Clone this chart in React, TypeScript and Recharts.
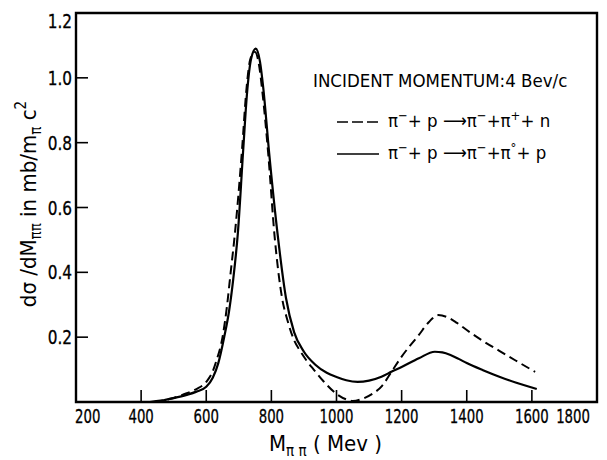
import { LineChart, Line, XAxis, YAxis, ReferenceArea, Legend, Customized } from "recharts"

// solid curve: pi- + p -> pi- + pi0 + p
const massSolid = [427, 460, 500, 540, 570, 600, 620, 637, 655, 670, 683, 697, 713, 725, 738, 752, 765, 775, 793, 820, 845, 870, 900, 935, 970, 1000, 1030, 1065, 1100, 1138, 1170, 1200, 1253, 1302, 1325, 1350, 1375, 1400, 1450, 1500, 1550, 1615]
const sigmaSolid = [0, 0.004, 0.012, 0.022, 0.032, 0.047, 0.075, 0.12, 0.2, 0.28, 0.38, 0.52, 0.77, 0.95, 1.06, 1.09, 1.05, 0.97, 0.77, 0.51, 0.32, 0.215, 0.155, 0.115, 0.09, 0.077, 0.067, 0.062, 0.066, 0.078, 0.094, 0.108, 0.135, 0.155, 0.153, 0.145, 0.133, 0.12, 0.098, 0.078, 0.06, 0.04]

// dashed curve: pi- + p -> pi- + pi+ + n
const massDashed = [440, 490, 540, 570, 600, 620, 632, 650, 663, 675, 688, 710, 723, 736, 750, 762, 772, 790, 810, 833, 850, 870, 890, 910, 930, 960, 1000, 1030, 1050, 1080, 1110, 1140, 1170, 1200, 1253, 1284, 1312, 1340, 1370, 1400, 1450, 1500, 1550, 1610]
const sigmaDashed = [0, 0.01, 0.027, 0.04, 0.062, 0.095, 0.13, 0.2, 0.29, 0.4, 0.52, 0.78, 0.96, 1.06, 1.08, 1.04, 0.96, 0.77, 0.51, 0.32, 0.25, 0.19, 0.155, 0.125, 0.1, 0.064, 0.025, 0.008, 0.003, 0.01, 0.025, 0.05, 0.095, 0.14, 0.207, 0.247, 0.268, 0.262, 0.244, 0.222, 0.188, 0.158, 0.128, 0.093]

const xTicks = [200, 400, 600, 800, 1000, 1200, 1400, 1600, 1800]
const yTicks = [0.2, 0.4, 0.6, 0.8, 1.0, 1.2]

const solidData = massSolid.map((m, i) => ({ m, v: sigmaSolid[i] }))
const dashedData = massDashed.map((m, i) => ({ m, v: sigmaDashed[i] }))

const font = "'DejaVu Sans Condensed', 'Liberation Sans', sans-serif"

// the original lettering is very narrow, so squeeze the tick labels sideways
const XTick = ({ x, y, payload }: any) => {
  const v = payload.value
  const anchor = v === 200 ? "start" : v === 1800 ? "end" : "middle"
  const tx = v === 200 || v === 1800 ? x - 1 : x
  return (
    <g>
      {v > 200 && v < 1800 && <line x1={x} x2={x} y1={y} y2={y - 12} stroke="#000" strokeWidth={1.6} />}
      <text transform={`translate(${tx},${y + 21}) scale(0.74,1)`} textAnchor={anchor} fontSize={20} fontFamily={font} fill="#000" stroke="#000" strokeWidth={0.3}>
        {v}
      </text>
    </g>
  )
}

const YTick = ({ x, y, payload }: any) => {
  const v = payload.value
  const ty = v === 1.2 ? y + 8 : y
  return (
    <g>
      {v < 1.2 && <line x1={x} x2={x + 12} y1={y} y2={y} stroke="#000" strokeWidth={1.6} />}
      <text transform={`translate(${x - 4},${ty}) scale(0.85,1)`} dy="0.35em" textAnchor="end" fontSize={20} fontFamily={font} fill="#000" stroke="#000" strokeWidth={0.3}>
        {v.toFixed(1)}
      </text>
    </g>
  )
}

const AxisLabels = () => (
  <g fontFamily={font} fill="#000">
    <text transform="translate(36,204) rotate(-90)" textAnchor="middle" fontSize={22}>
      dσ /dM<tspan fontSize={15} dy={5}>ππ</tspan>
      <tspan dy={-5}> in mb/m</tspan>
      <tspan fontSize={15} dy={5}>π</tspan>
      <tspan dy={-5}> c</tspan>
      <tspan fontSize={15} dy={-10}>2</tspan>
    </text>
    <text x={269} y={451} fontSize={22}>
      M<tspan fontSize={15} dy={5}>π π</tspan>
      <tspan dy={-5}>{"  ( Mev )"}</tspan>
    </text>
  </g>
)

const sup = (s: string) => (
  <span style={{ fontSize: 13, position: "relative", top: -7 }}>{s}</span>
)

const LegendBox = () => (
  <div style={{ fontFamily: font, fontSize: 18.5, color: "#000", lineHeight: "22px", whiteSpace: "nowrap" }}>
    <div>INCIDENT MOMENTUM:4 Bev/c</div>
    <div style={{ display: "flex", alignItems: "center", marginLeft: 24, marginTop: 18 }}>
      <svg width={42} height={4}>
        <line x1={0} x2={42} y1={2} y2={2} stroke="#000" strokeWidth={1.6} strokeDasharray="11 4" />
      </svg>
      <span style={{ marginLeft: 9 }}>
        π{sup("−")}+ p ⟶π{sup("−")}+π{sup("+")}+ n
      </span>
    </div>
    <div style={{ display: "flex", alignItems: "center", marginLeft: 24, marginTop: 8 }}>
      <svg width={42} height={4}>
        <line x1={0} x2={42} y1={2} y2={2} stroke="#000" strokeWidth={1.6} />
      </svg>
      <span style={{ marginLeft: 9 }}>
        π{sup("−")}+ p ⟶π{sup("−")}+π{sup("°")}+ p
      </span>
    </div>
  </div>
)

export default function App() {
  return (
    <div style={{ position: "absolute", left: 0, top: 0, background: "#fff" }}>
      <LineChart width={607} height={460} margin={{ top: 13, right: 10, left: 16, bottom: 28 }}>
        <XAxis
          type="number"
          dataKey="m"
          domain={[200, 1800]}
          ticks={xTicks}
          allowDataOverflow
          height={30}
          tickSize={0}
          tickMargin={0}
          axisLine={false}
          tickLine={false}
          tick={<XTick />}
        />
        <YAxis
          type="number"
          domain={[0, 1.2]}
          ticks={yTicks}
          allowDataOverflow
          width={60}
          tickSize={0}
          tickMargin={0}
          axisLine={false}
          tickLine={false}
          tick={<YTick />}
        />
        <ReferenceArea x1={200} x2={1800} y1={0} y2={1.2} fill="none" stroke="#000" strokeWidth={2.4} ifOverflow="visible" />
        <Line data={dashedData} dataKey="v" type="monotone" stroke="#000" strokeWidth={2} strokeDasharray="9 5" dot={false} isAnimationActive={false} />
        <Line data={solidData} dataKey="v" type="monotone" stroke="#000" strokeWidth={2.2} dot={false} isAnimationActive={false} />
        <Legend
          layout="horizontal"
          verticalAlign="middle"
          align="center"
          content={<LegendBox />}
          wrapperStyle={{ top: 70, left: 313, width: 285 }}
        />
        <Customized component={<AxisLabels />} />
      </LineChart>
    </div>
  )
}
